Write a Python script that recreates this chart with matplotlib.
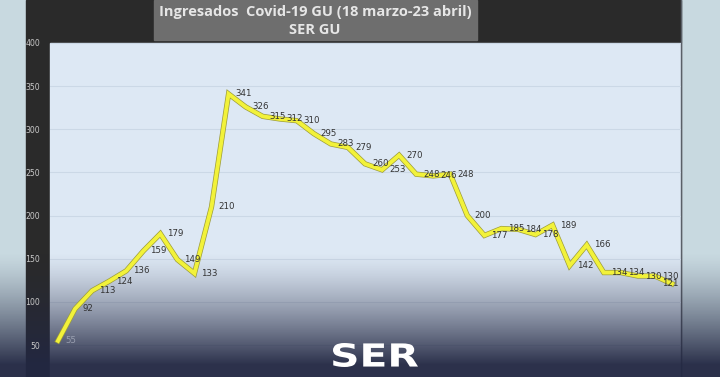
import numpy as np
import matplotlib
matplotlib.use("Agg")
import matplotlib.pyplot as plt
import matplotlib.patheffects as pe
from matplotlib.patches import Rectangle, PathPatch
from matplotlib.textpath import TextPath
from matplotlib.font_manager import FontProperties
from matplotlib.transforms import Affine2D

# ingresados por dia, 18 marzo - 23 abril
ingresados = [55, 92, 113, 124, 136, 159, 179, 149, 133, 210, 341, 326, 315, 312,
              310, 295, 283, 279, 260, 253, 270, 248, 246, 248, 200, 177, 185, 184,
              178, 189, 142, 166, 134, 134, 130, 130, 121]
yticks = [50, 100, 150, 200, 250, 300, 350, 400]
titulo = "Ingresados  Covid-19 GU (18 marzo-23 abril)"
subtitulo = "SER GU"

W, H = 720, 377
fig = plt.figure(figsize=(W / 100, H / 100), dpi=100)
fig.patch.set_facecolor("#c8d9e0")

# fondo: marco oscuro, caja del titulo y area del grafico
bg = fig.add_axes([0, 0, 1, 1], zorder=0)
bg.set_xlim(0, W)
bg.set_ylim(H, 0)
bg.axis("off")
bg.add_patch(Rectangle((26, 0), 655, H, color="#2a2a2a"))
bg.add_patch(Rectangle((50, 43), 631, H - 43, color="#dde8f4"))
bg.plot([681, 681], [0, H], color="#5a6068", lw=1)
bg.add_patch(Rectangle((154, 0), 323, 40, color="#6e6e6e"))
bg.text(315, 12, titulo, ha="center", va="center", color="#e6e6e6",
        fontsize=10.5, fontweight="bold", family="Open Sans")
bg.text(315, 30, subtitulo, ha="center", va="center", color="#e6e6e6",
        fontsize=10.5, fontweight="bold", family="Open Sans")

rect = [50 / W, 0, 631 / W, 334 / H]
x = np.arange(len(ingresados))

# grafico principal (linea y etiquetas, encima del degradado)
ax = fig.add_axes(rect, zorder=3)
ax.patch.set_alpha(0)
ax.set_xlim(-0.47, 36.53)
ax.set_ylim(13, 400)
ax.set_yticks(yticks)
ax.set_xticks([])
ax.tick_params(axis="y", length=0, pad=7, labelsize=5.6, labelcolor="#c8c8c8")
for s in ax.spines.values():
    s.set_visible(False)

# rejilla, debajo del degradado
axg = fig.add_axes(rect, zorder=1, sharex=ax, sharey=ax)
axg.patch.set_alpha(0)
axg.grid(axis="y", color="#cbd8e6", linewidth=0.8)
axg.tick_params(length=0, labelleft=False, labelbottom=False)
for s in axg.spines.values():
    s.set_visible(False)

# degradado oscuro inferior
ov = fig.add_axes([0, 0, 1, 1], zorder=2)
ov.axis("off")
rows = np.arange(H)
t = np.clip((rows - 252) / 112.0, 0, 1)
alpha = t ** 1.3 * 0.95
grad = np.zeros((H, 1, 4))
grad[:, 0, 0] = 0x22 / 255
grad[:, 0, 1] = 0x27 / 255
grad[:, 0, 2] = 0x42 / 255
grad[:, 0, 3] = alpha
ov.imshow(grad, aspect="auto", extent=(0, W, H, 0))
ov.set_xlim(0, W)
ov.set_ylim(H, 0)

ax.plot(x, ingresados, color="#f2f23a", linewidth=2.8, solid_joinstyle="miter",
        path_effects=[pe.Stroke(linewidth=3.8, foreground="#9c9c3a"), pe.Normal()])

for i, v in enumerate(ingresados):
    if i == len(ingresados) - 1:
        ax.annotate(str(v), (i, v), xytext=(5, 0), textcoords="offset points",
                    ha="right", va="center", fontsize=6.2, color="#333333")
    else:
        ax.annotate(str(v), (i, v), xytext=(5, 0), textcoords="offset points",
                    ha="left", va="center", fontsize=6.2,
                    color="#333333" if v > 70 else "#9aa0b0")

# logo SER, estirado a lo ancho
logo = fig.add_axes([0, 0, 1, 1], zorder=4)
logo.axis("off")
logo.set_xlim(0, W)
logo.set_ylim(0, H)
tp = TextPath((0, 0), "SER", size=10, prop=FontProperties(family="DejaVu Sans", weight="bold"))
ext = tp.get_extents()
sx = 85 / ext.width
sy = 24 / ext.height
tr = Affine2D().translate(-ext.x0, -ext.y0).scale(sx, sy).translate(333, 10)
logo.add_patch(PathPatch(tr.transform_path(tp), color="white", lw=0))

fig.savefig("out.png", dpi=100)
